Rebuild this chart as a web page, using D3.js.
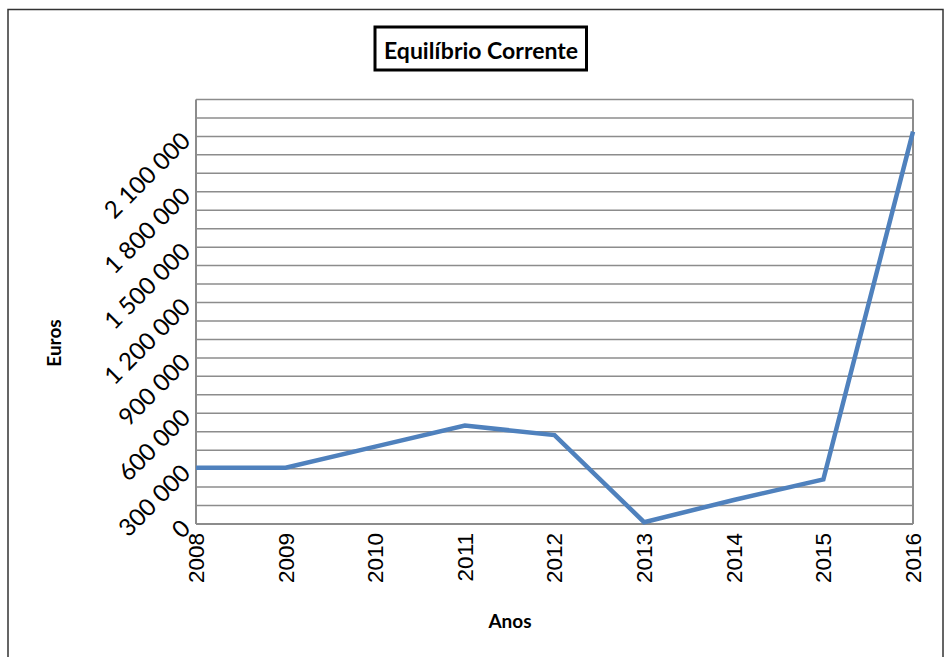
<!DOCTYPE html>
<html><head><meta charset="utf-8">
<script src="https://cdn.jsdelivr.net/npm/d3@7"></script>
<style>html,body{margin:0;padding:0;background:#fff}svg{display:block}</style>
</head><body>
<svg id="c" width="948" height="657"></svg>
<script>
const years = ["2008","2009","2010","2011","2012","2013","2014","2015","2016"];
const values = [305000, 305000, 419000, 533000, 482000, 10000, 130000, 242000, 2126000];
const yLabelTicks = [0,300000,600000,900000,1200000,1500000,1800000,2100000];
const gridStep = 100000;
const yMax = 2300000;
const title = "Equilíbrio Corrente";
const xTitle = "Anos";
const yTitle = "Euros";

const svg = d3.select("#c");
const L = 196, R = 913, T = 99.5, B = 524;
const x = d3.scalePoint().domain(years).range([L, R]);
const y = d3.scaleLinear().domain([0, yMax]).range([B, T]);
const grid = d3.range(0, yMax + 1, gridStep);

// outer border
svg.append("rect").attr("x",8).attr("y",9.5).attr("width",935).attr("height",700)
  .attr("fill","none").attr("stroke","#333").attr("stroke-width",1.5);

// gridlines
svg.append("g").selectAll("line").data(grid).join("line")
  .attr("x1",L).attr("x2",R).attr("y1",d=>y(d)).attr("y2",d=>y(d))
  .attr("stroke","#8c8c8c").attr("stroke-width",1.5);
// right border
svg.append("line").attr("x1",R).attr("x2",R).attr("y1",T).attr("y2",B)
  .attr("stroke","#8c8c8c").attr("stroke-width",2);
// left axis
svg.append("line").attr("x1",L).attr("x2",L).attr("y1",T).attr("y2",B)
  .attr("stroke","#8c8c8c").attr("stroke-width",2);
svg.append("line").attr("x1",L).attr("x2",R).attr("y1",B).attr("y2",B)
  .attr("stroke","#8c8c8c").attr("stroke-width",2);

// y labels
svg.append("g").selectAll("text").data(yLabelTicks).join("text")
  .attr("transform",d=>`translate(186,${y(d)}) rotate(-45)`)
  .attr("text-anchor","end").attr("dy","0.35em")
  .attr("font-family","Lato, sans-serif").attr("font-size",24).attr("fill","#000")
  .text(d=>d3.format(",")(d).replace(/,/g," "));

// x labels
svg.append("g").selectAll("text").data(years).join("text")
  .attr("transform",d=>`translate(${x(d)},533) rotate(-90)`)
  .attr("text-anchor","end").attr("dy","0.35em")
  .attr("font-family","Liberation Sans, Arial, sans-serif").attr("font-size",22.5).attr("fill","#000")
  .text(d=>d);

// line
const line = d3.line().x((d,i)=>x(years[i])).y(d=>y(d));
svg.append("path").datum(values).attr("d",line)
  .attr("fill","none").attr("stroke","#4F81BD").attr("stroke-width",4.5)
  .attr("stroke-linejoin","miter");

// title
svg.append("rect").attr("x",375).attr("y",27).attr("width",211.5).attr("height",43)
  .attr("fill","#fff").attr("stroke","#000").attr("stroke-width",3);
svg.append("text").attr("x",481).attr("y",59).attr("text-anchor","middle")
  .attr("font-family","Lato, sans-serif").attr("font-weight","bold").attr("font-size",23)
  .text(title);

// axis titles
svg.append("text").attr("transform","translate(61,343) rotate(-90)").attr("text-anchor","middle")
  .attr("font-family","Lato, sans-serif").attr("font-weight","bold").attr("font-size",19)
  .text(yTitle);
svg.append("text").attr("x",510).attr("y",628).attr("text-anchor","middle")
  .attr("font-family","Lato, sans-serif").attr("font-weight","bold").attr("font-size",19)
  .text(xTitle);
</script>
</body></html>
